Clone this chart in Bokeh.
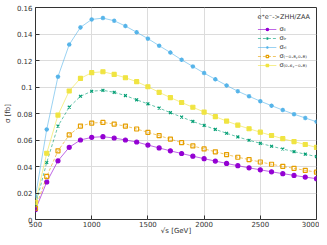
from bokeh.plotting import figure
from bokeh.models import Range1d, FixedTicker, Legend, LegendItem
from bokeh.embed import file_html
from bokeh.resources import INLINE

sqrt_s = [500, 600, 700, 800, 900, 1000, 1100, 1200, 1300, 1400, 1500, 1600, 1700,
          1800, 1900, 2000, 2100, 2200, 2300, 2400, 2500, 2600, 2700, 2800, 2900, 3000]

sigma_LL = [0.0075, 0.0283, 0.0443, 0.0545, 0.0600, 0.0620, 0.0625, 0.0615, 0.0600,
            0.0585, 0.0562, 0.0540, 0.0518, 0.0498, 0.0478, 0.0459, 0.0441, 0.0423,
            0.0406, 0.0390, 0.0375, 0.0360, 0.0346, 0.0333, 0.0320, 0.0308]
sigma_LR = [0.0110, 0.0430, 0.0705, 0.0848, 0.0930, 0.0968, 0.0975, 0.0960, 0.0935,
            0.0903, 0.0873, 0.0841, 0.0806, 0.0773, 0.0740, 0.0710, 0.0680, 0.0651,
            0.0623, 0.0598, 0.0575, 0.0553, 0.0532, 0.0512, 0.0493, 0.0475]
sigma_RL = [0.0175, 0.0680, 0.1078, 0.1320, 0.1450, 0.1510, 0.1520, 0.1500, 0.1460,
            0.1413, 0.1365, 0.1312, 0.1260, 0.1205, 0.1155, 0.1105, 0.1058, 0.1012,
            0.0968, 0.0930, 0.0893, 0.0859, 0.0826, 0.0795, 0.0766, 0.0738]
sigma_m08_p08 = [0.0085, 0.0325, 0.0518, 0.0638, 0.0705, 0.0728, 0.0733, 0.0720, 0.0705,
                 0.0683, 0.0658, 0.0633, 0.0607, 0.0580, 0.0555, 0.0533, 0.0511, 0.0490,
                 0.0470, 0.0452, 0.0434, 0.0417, 0.0401, 0.0386, 0.0371, 0.0357]
sigma_p06_m08 = [0.0130, 0.0500, 0.0788, 0.0970, 0.1065, 0.1108, 0.1115, 0.1095, 0.1070,
                 0.1040, 0.1002, 0.0960, 0.0920, 0.0883, 0.0847, 0.0811, 0.0776, 0.0743,
                 0.0712, 0.0685, 0.0659, 0.0634, 0.0610, 0.0588, 0.0566, 0.0544]

series_labels = ["σₗₗ", "σₗᵣ", "σᵣₗ", "σ₍₋₀.₈,₀.₈₎", "σ₍₀.₆,₋₀.₈₎"]
legend_title = "e⁺e⁻->ZHH/ZAA"

x_ticks = [500, 1000, 1500, 2000, 2500, 3000]
x_tick_labels = ["500", "1000", "1500", "2000", "2500", "3000"]
y_ticks = [0, 0.02, 0.04, 0.06, 0.08, 0.1, 0.12, 0.14, 0.16]
y_tick_labels = ["0", "0.02", "0.04", "0.06", "0.08", "0.1", "0.12", "0.14", "0.16"]

FONT = "DejaVu Sans"
TXT = "#333333"

p = figure(width=319, height=237, output_backend="svg", toolbar_location=None,
           x_range=Range1d(500, 3000), y_range=Range1d(0, 0.16),
           min_border_left=27, min_border_right=3, min_border_top=7, min_border_bottom=15,
           x_axis_label="√s [GeV]", y_axis_label="σ [fb]")
p.background_fill_color = "white"
p.border_fill_color = "white"
p.outline_line_color = "#333333"
p.outline_line_width = 1

for ax in (p.xaxis[0], p.yaxis[0]):
    ax.axis_line_color = None
    ax.major_tick_in = 4
    ax.major_tick_out = 0
    ax.minor_tick_line_color = None
    ax.major_tick_line_color = "#333333"
    ax.major_label_text_font = FONT
    ax.major_label_text_font_size = "7px"
    ax.major_label_text_color = TXT
    ax.axis_label_text_font = FONT
    ax.axis_label_text_font_size = "7px"
    ax.axis_label_text_font_style = "normal"
    ax.axis_label_text_color = TXT
    ax.axis_label_standoff = 0

p.xaxis[0].ticker = FixedTicker(ticks=x_ticks)
p.xaxis[0].major_label_overrides = dict(zip(x_ticks, x_tick_labels))
p.xaxis[0].major_label_standoff = 1
p.xaxis[0].axis_label_standoff = -3
p.yaxis[0].ticker = FixedTicker(ticks=y_ticks)
p.yaxis[0].major_label_overrides = dict(zip(y_ticks, y_tick_labels))
p.yaxis[0].major_label_standoff = 3
p.yaxis[0].axis_label_standoff = 2

p.xgrid.ticker = FixedTicker(ticks=x_ticks)
p.ygrid.ticker = FixedTicker(ticks=y_ticks)
p.grid.grid_line_color = "#dcdcdc"
p.grid.grid_line_width = 1

colors = ["#9400D3", "#009E73", "#56B4E9", "#E69F00", "#F0E442"]
dashes = ["solid", "3 2", "solid", "3 2", "solid"]
markers = ["circle", "x", "asterisk", "square", "square"]
fills = [True, False, False, False, True]
sizes = [4, 4, 4.5, 4, 4]
series = [sigma_LL, sigma_LR, sigma_RL, sigma_m08_p08, sigma_p06_m08]

items = []
for vals, col, dash, mk, fill, sz, lab in zip(series, colors, dashes, markers, fills, sizes, series_labels):
    ln = p.line(sqrt_s, vals, line_color=col, line_width=0.8, line_dash=dash, line_alpha=0.75)
    sc = p.scatter(sqrt_s, vals, marker=mk, size=sz, line_color=col,
                   fill_color=col if fill else None, line_width=1.2)
    items.append(LegendItem(label=lab, renderers=[ln, sc]))

legend = Legend(items=items, location="top_right", title=legend_title,
                title_text_font=FONT, title_text_font_size="6.5px", title_text_color=TXT,
                title_text_font_style="normal", title_standoff=4,
                label_text_font=FONT, label_text_font_size="6.5px", label_text_color=TXT,
                label_height=6, label_standoff=3, glyph_height=6, glyph_width=19,
                spacing=1, padding=2, margin=4,
                background_fill_alpha=0, border_line_alpha=0)
p.add_layout(legend)

open("out.html", "w").write(file_html(p, INLINE))
